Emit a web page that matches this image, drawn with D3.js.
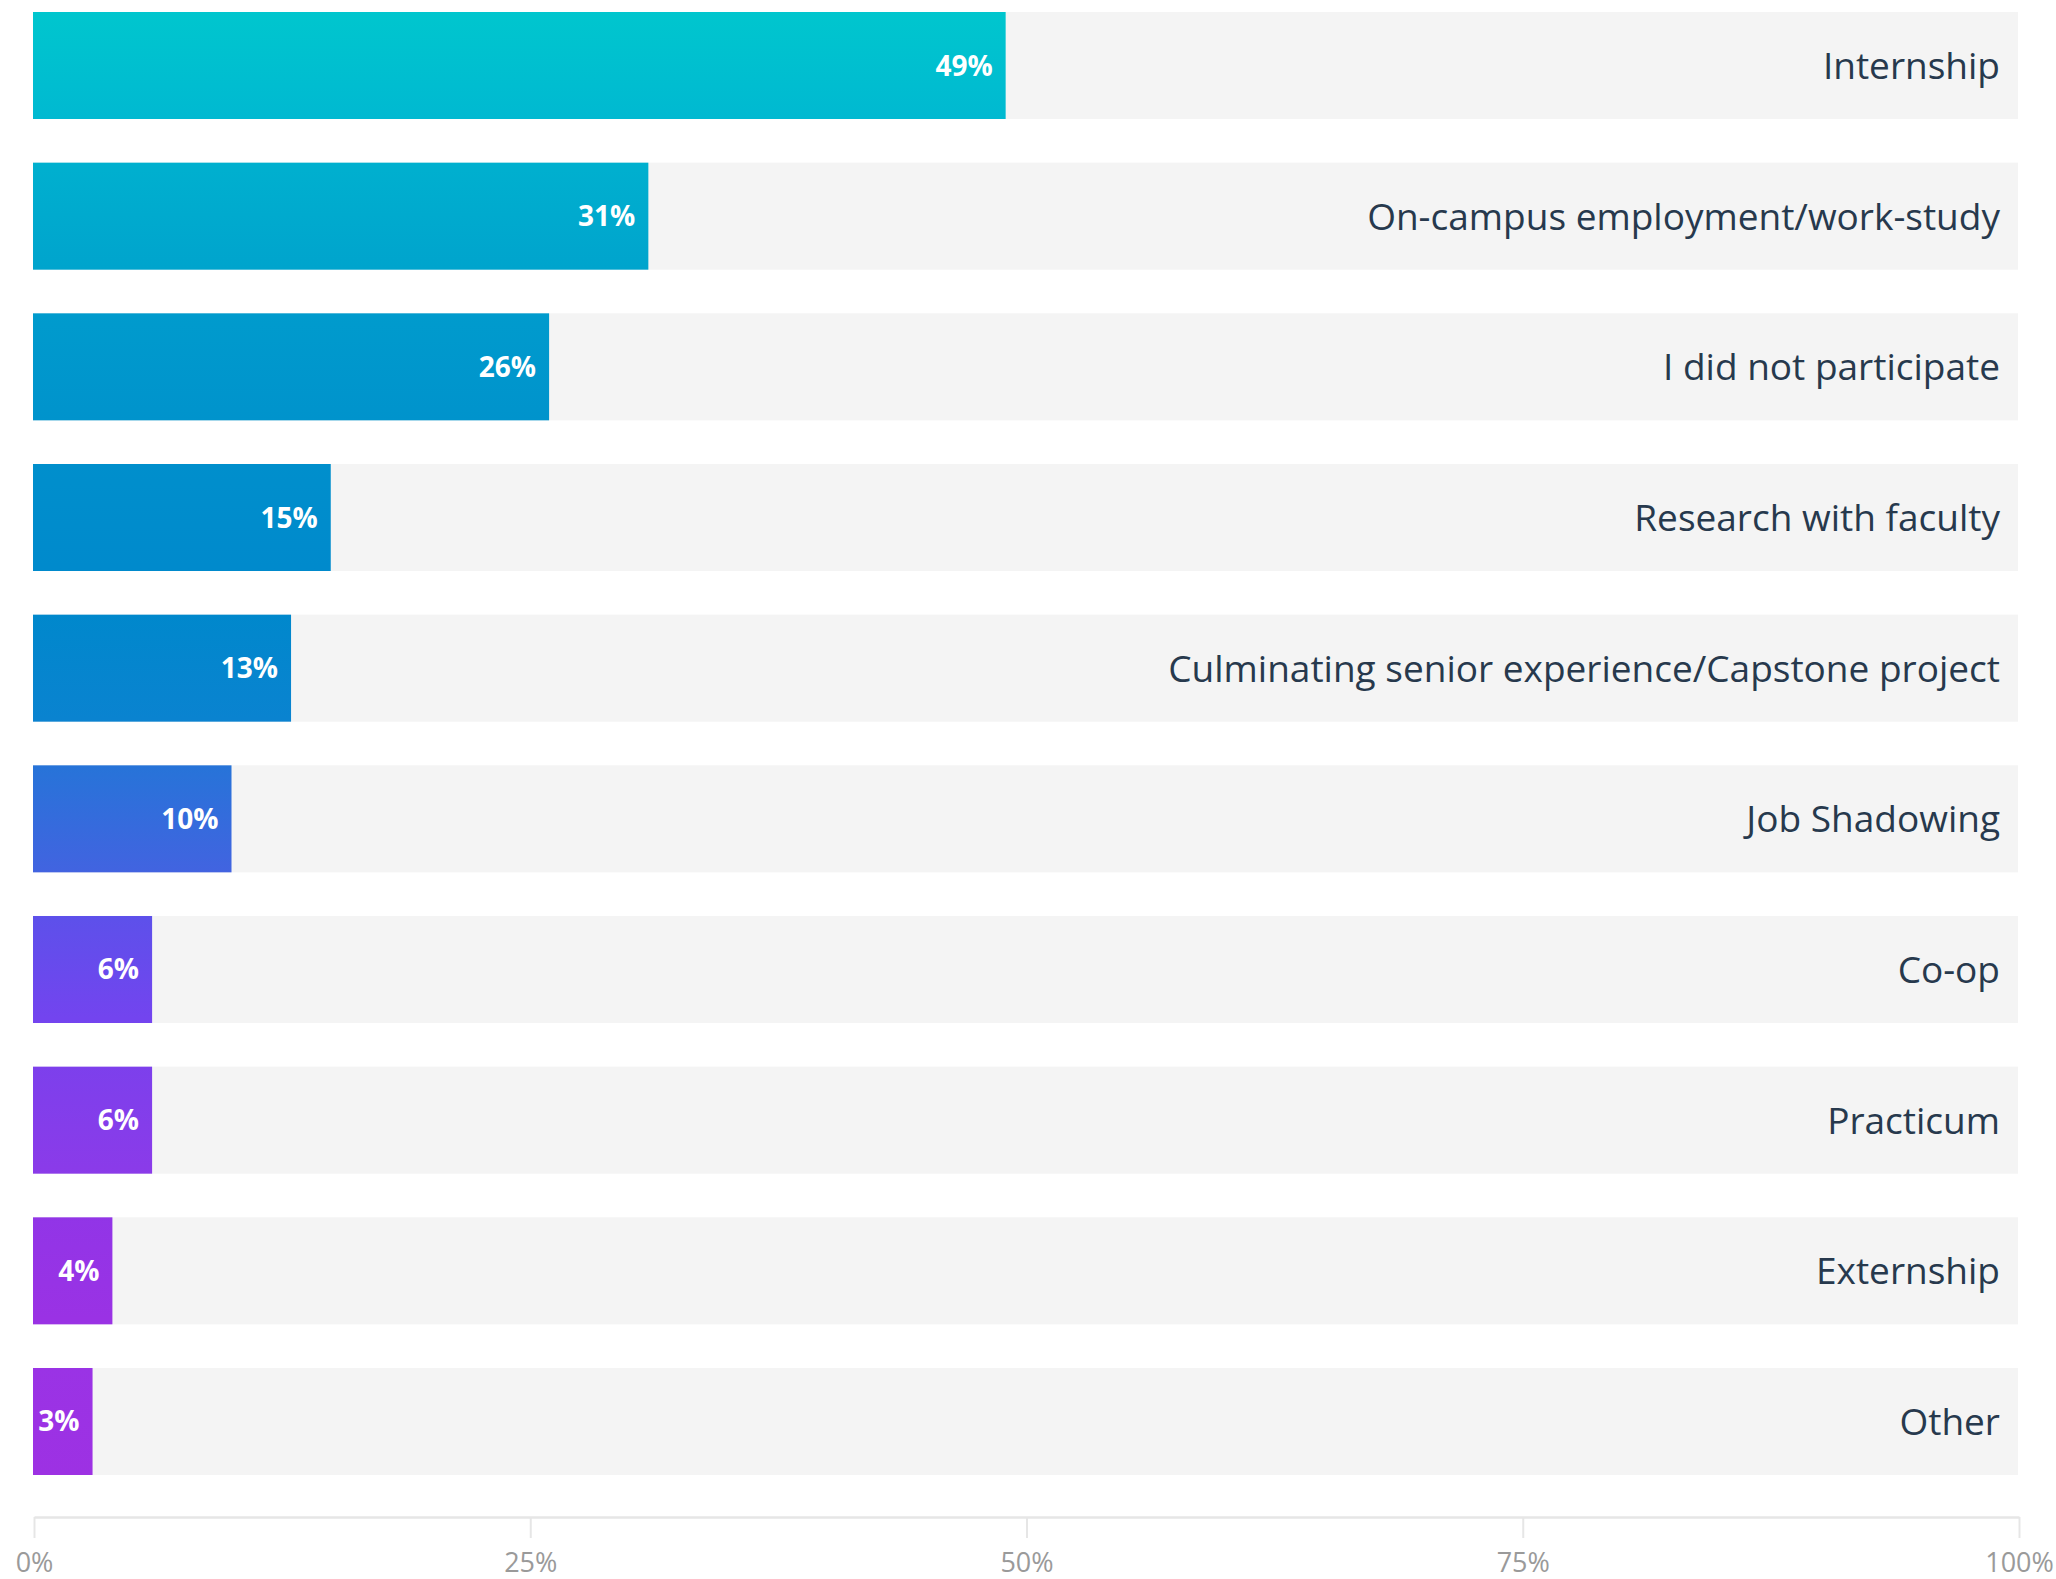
<!DOCTYPE html>
<html>
<head>
<meta charset="utf-8">
<script src="https://cdn.jsdelivr.net/npm/d3@7"></script>
<style>
  html, body { margin: 0; padding: 0; background: #ffffff; }
  svg { display: block; }
</style>
</head>
<body>
<svg id="chart" width="2056" height="1579"></svg>
<script>
// Share of respondents by type of experiential learning
const categories = [
  "Internship",
  "On-campus employment/work-study",
  "I did not participate",
  "Research with faculty",
  "Culminating senior experience/Capstone project",
  "Job Shadowing",
  "Co-op",
  "Practicum",
  "Externship",
  "Other"
];
const values = [49, 31, 26, 15, 13, 10, 6, 6, 4, 3];
const tickValues = [0, 25, 50, 75, 100];
const tickLabels = ["0%", "25%", "50%", "75%", "100%"];

const svg = d3.select("#chart");

const x = d3.scaleLinear().domain([0, 100]).range([33, 2018]);
const y = d3.scaleBand()
  .domain(categories)
  .range([12, 1475])
  .paddingInner(0.2898)
  .paddingOuter(0);

// Vertical colour ramp shared by all bars (cyan -> blue -> violet)
const defs = svg.append("defs");
const grad = defs.append("linearGradient")
  .attr("id", "barGrad")
  .attr("gradientUnits", "userSpaceOnUse")
  .attr("x1", 0).attr("x2", 0)
  .attr("y1", 12).attr("y2", 1475);
const stops = [
  [0.000, "#00c6ce"],
  [0.073, "#00b9d1"],
  [0.102, "#00b0cf"],
  [0.175, "#00a4cd"],
  [0.205, "#009bcd"],
  [0.280, "#0093cc"],
  [0.307, "#008fcc"],
  [0.380, "#008acc"],
  [0.410, "#0088cc"],
  [0.483, "#0a83d0"],
  [0.513, "#2674d8"],
  [0.586, "#4164e0"],
  [0.615, "#5c51ea"],
  [0.688, "#7344ef"],
  [0.717, "#7c40ec"],
  [0.790, "#8a3be9"],
  [0.820, "#9135e7"],
  [0.893, "#9a32e4"],
  [0.926, "#9a33e5"],
  [1.000, "#9d31e3"]
];
grad.selectAll("stop").data(stops).join("stop")
  .attr("offset", d => d[0])
  .attr("stop-color", d => d[1]);

const rows = svg.append("g").selectAll("g")
  .data(categories.map((c, i) => ({ cat: c, val: values[i] })))
  .join("g");

// Full-width track
rows.append("rect")
  .attr("x", x(0))
  .attr("y", d => y(d.cat))
  .attr("width", x(100) - x(0))
  .attr("height", y.bandwidth())
  .attr("fill", "#f4f4f4");

// Value bar
rows.append("rect")
  .attr("x", x(0))
  .attr("y", d => y(d.cat))
  .attr("width", d => x(d.val) - x(0))
  .attr("height", y.bandwidth())
  .attr("fill", "url(#barGrad)");

// Value label inside the bar end
rows.append("text")
  .attr("x", d => x(d.val) - 13)
  .attr("y", d => y(d.cat) + y.bandwidth() / 2 + 10)
  .attr("text-anchor", "end")
  .attr("font-family", "'Open Sans', sans-serif")
  .attr("font-weight", 700)
  .attr("font-size", 28)
  .attr("fill", "#ffffff")
  .text(d => d.val + "%");

// Category label at the right end of the track
rows.append("text")
  .attr("x", x(100) - 18)
  .attr("y", d => y(d.cat) + y.bandwidth() / 2 + 13.5)
  .attr("text-anchor", "end")
  .attr("font-family", "'Open Sans', sans-serif")
  .attr("font-size", 37)
  .attr("fill", "#27394d")
  .text(d => d.cat);

// Bottom axis
const axis = d3.axisBottom(x)
  .tickValues(tickValues)
  .tickFormat((d, i) => tickLabels[i])
  .tickSizeInner(21)
  .tickSizeOuter(0)
  .tickPadding(15);

const gAxis = svg.append("g")
  .attr("transform", "translate(1,1517)")
  .call(axis);
gAxis.select(".domain").attr("stroke", "#e6e6e6").attr("stroke-width", 2.5);
gAxis.selectAll(".tick line").attr("stroke", "#e6e6e6").attr("stroke-width", 2);
gAxis.selectAll(".tick text")
  .attr("font-family", "'Open Sans', sans-serif")
  .attr("font-size", 27)
  .attr("fill", "#9a9a9a");
</script>
</body>
</html>
